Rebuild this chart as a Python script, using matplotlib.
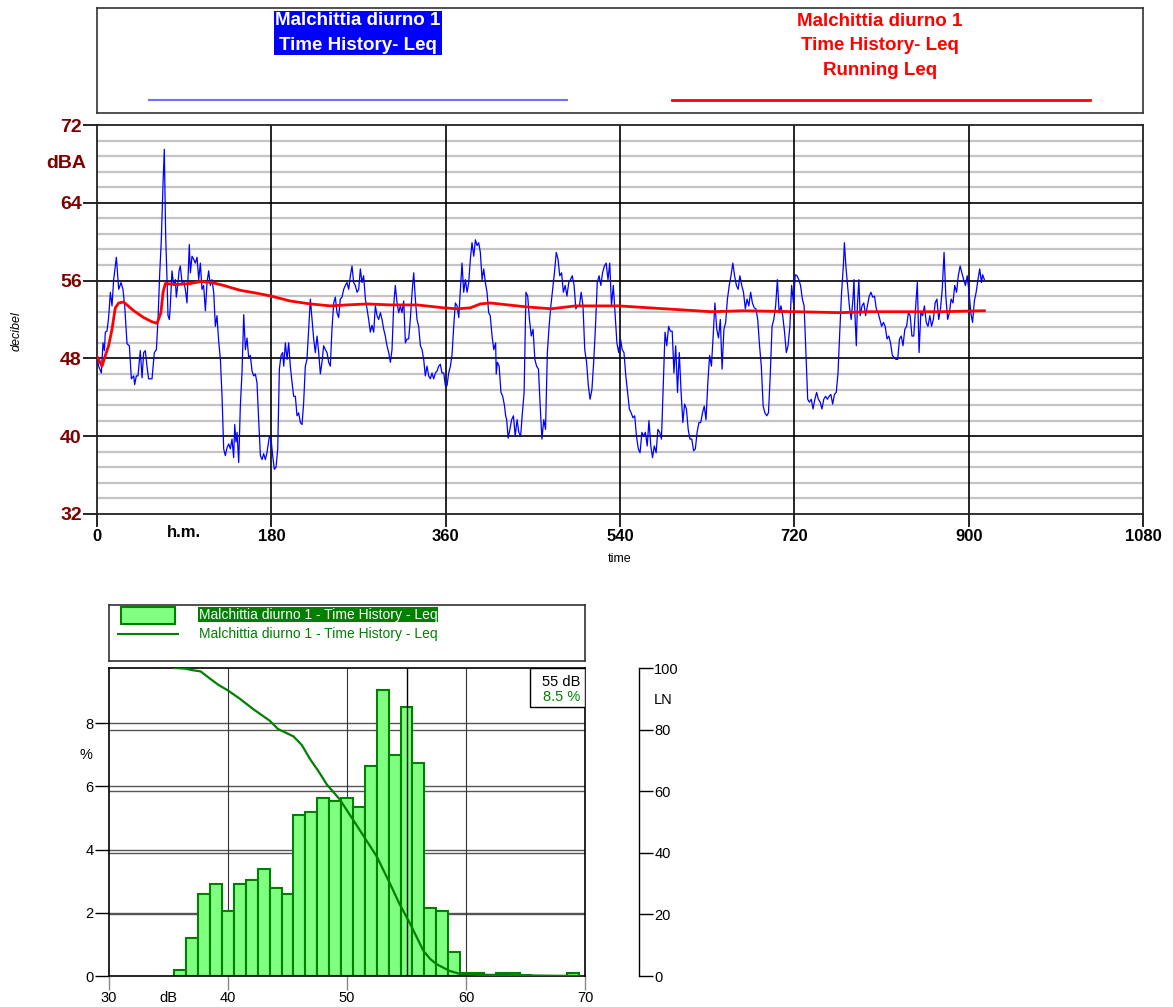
import matplotlib
matplotlib.use("Agg")
import matplotlib.pyplot as plt
from matplotlib import font_manager
from matplotlib.patches import Rectangle
from matplotlib.transforms import blended_transform_factory

# ---------------- data ----------------
TIME_S = [0, 1.7, 4.5, 6.2, 7.6, 8.6, 10.3, 12.0, 13.8, 15.5, 17.2, 20.0, 22.4, 24.8, 26.8, 28.6,
          31.0, 33.4, 35.5, 37.9, 38.9, 40.6, 42.3, 44.7, 46.5, 48.2, 49.9, 51.6, 53.3, 56.8, 59.2,
          61.3, 63.0, 64.7, 66.4, 68.2, 69.5, 70.9, 72.3, 73.3, 74.7, 75.7, 77.4, 79.2, 80.9, 81.9,
          83.3, 84.7, 86.0, 87.8, 89.5, 91.2, 92.9, 94.0, 95.3, 96.4, 98.1, 99.8, 101.5, 103.3,
          105.0, 106.7, 108.4, 110.1, 111.9, 113.6, 115.3, 117.0, 118.7, 120.5, 122.2, 123.9,
          125.6, 127.4, 129.1, 130.8, 132.5, 134.2, 136.0, 137.7, 139.4, 141.1, 142.2, 143.5,
          144.6, 146.3, 148.0, 149.7, 151.5, 153.2, 154.9, 156.6, 158.3, 160.1, 161.8, 163.5,
          165.2, 166.9, 168.7, 170.4, 172.1, 173.8, 175.5, 178.0, 179.7, 181.4, 183.1, 184.8,
          186.6, 188.3, 190.0, 191.7, 192.8, 194.5, 196.2, 197.9, 199.6, 201.4, 203.1, 204.8,
          206.5, 208.2, 210.0, 211.7, 213.4, 215.1, 216.8, 218.6, 220.3, 222.0, 223.7, 225.4,
          227.2, 228.9, 230.6, 232.3, 234.0, 235.8, 237.5, 239.2, 240.9, 242.6, 244.4, 246.1,
          247.8, 249.5, 251.2, 253.0, 254.7, 256.4, 258.1, 259.9, 261.6, 263.3, 265.0, 266.7,
          268.5, 270.2, 271.9, 273.6, 275.3, 277.1, 278.8, 280.5, 282.2, 283.9, 285.7, 287.4,
          289.1, 290.8, 292.6, 294.3, 296.0, 297.7, 299.4, 301.2, 302.9, 304.6, 306.3, 308.0,
          309.8, 311.5, 313.2, 314.9, 316.7, 318.4, 320.1, 321.8, 323.5, 325.3, 327.0, 328.7,
          330.4, 332.1, 333.9, 335.6, 337.3, 339.0, 340.7, 342.5, 344.2, 345.9, 347.6, 349.4,
          351.1, 352.8, 354.5, 356.2, 358.0, 359.7, 361.4, 363.1, 364.9, 366.6, 368.3, 370.0,
          371.8, 373.5, 375.2, 376.9, 378.6, 380.4, 382.1, 383.8, 385.5, 387.2, 389.0, 390.7,
          392.4, 394.1, 395.8, 397.6, 399.3, 401.0, 402.7, 404.4, 406.0, 407.9, 409.7, 411.6,
          412.2, 413.4, 415.2, 417.1, 418.9, 420.8, 421.9, 423.0, 424.5, 426.3, 428.1, 430.0,
          431.8, 433.7, 435.5, 437.4, 439.2, 441.0, 442.9, 444.7, 446.5, 448.4, 450.2, 452.1,
          453.9, 455.8, 457.6, 459.4, 461.3, 463.1, 465.0, 466.8, 468.6, 470.5, 472.3, 474.2,
          476.0, 477.8, 479.7, 481.5, 483.4, 485.2, 487.1, 488.9, 490.7, 492.6, 494.4, 496.3,
          498.1, 499.9, 501.8, 503.6, 505.5, 507.3, 509.1, 511.0, 512.8, 514.7, 516.5, 518.4,
          520.2, 522.0, 523.9, 525.7, 527.6, 529.4, 531.2, 533.1, 534.9, 536.8, 538.6, 540.5,
          542.3, 544.1, 546.0, 547.8, 549.7, 551.5, 553.4, 555.2, 557.0, 558.9, 560.7, 562.6,
          564.4, 566.2, 568.1, 569.9, 571.8, 573.6, 575.4, 577.3, 579.1, 581.0, 582.8, 584.7,
          586.5, 588.3, 590.2, 592.0, 593.9, 595.7, 597.5, 599.4, 601.2, 603.1, 604.9, 606.7,
          608.6, 610.4, 612.3, 614.1, 616.0, 617.8, 619.6, 621.5, 623.3, 625.2, 627.0, 628.8,
          630.7, 632.5, 634.4, 636.2, 638.0, 639.9, 641.7, 643.6, 645.4, 647.3, 649.1, 650.9,
          652.8, 654.6, 656.5, 658.3, 660.2, 662.0, 663.8, 665.7, 667.5, 669.4, 671.2, 673.0,
          674.9, 676.7, 678.6, 680.4, 682.2, 684.1, 685.9, 687.8, 689.6, 691.5, 693.3, 695.1,
          697.0, 698.8, 700.7, 702.5, 704.3, 706.2, 708.0, 709.9, 711.7, 713.5, 715.4, 717.2,
          719.1, 720.9, 722.8, 724.6, 726.4, 728.3, 730.1, 732.0, 733.8, 735.6, 737.5, 739.3,
          741.2, 743.0, 744.8, 746.7, 748.5, 750.4, 752.2, 754.1, 755.9, 757.7, 759.6, 761.4,
          763.3, 765.1, 766.9, 768.8, 770.6, 771.7, 773.2, 775.0, 776.8, 778.7, 780.5, 781.6,
          782.5, 784.0, 785.1, 786.6, 788.0, 789.9, 791.7, 793.6, 795.4, 797.3, 799.1, 800.9,
          802.8, 804.6, 806.5, 808.3, 810.1, 812.0, 813.8, 815.7, 817.5, 819.3, 821.2, 823.0,
          824.9, 826.7, 828.6, 830.4, 832.2, 834.1, 835.9, 837.8, 839.6, 841.4, 843.3, 845.1,
          847.0, 848.8, 850.6, 852.5, 854.3, 856.2, 858.0, 859.9, 861.7, 863.5, 865.4, 867.2,
          869.1, 870.9, 872.7, 874.6, 876.4, 878.3, 880.1, 881.9, 883.8, 885.6, 887.5, 889.3,
          891.2, 893.0, 894.8, 896.7, 898.5, 900.4, 902.2, 904.0, 905.9, 907.7, 909.6, 911.4,
          913.2, 914.4, 916.2]
LEQ_DB = [48.1, 47.2, 46.5, 49.6, 48.8, 50.7, 50.8, 52.2, 54.8, 53.4, 56.1, 58.4, 55.1, 55.8, 55.1, 53.4,
          49.5, 49.3, 45.9, 46.2, 45.3, 46.2, 46.2, 48.8, 46.0, 48.6, 48.8, 47.2, 45.9, 45.9, 48.6,
          48.9, 52.0, 56.6, 60.2, 66.0, 69.5, 60.6, 56.1, 52.4, 52.0, 53.4, 57.0, 55.5, 56.1, 54.3,
          55.5, 57.0, 57.5, 55.8, 56.0, 55.1, 53.7, 56.3, 59.7, 56.8, 58.5, 58.2, 57.8, 58.4,
          56.1, 57.8, 55.1, 55.5, 52.9, 55.8, 57.0, 55.5, 56.1, 54.8, 51.3, 52.4,
          49.8, 47.9, 44.1, 38.7, 38.0, 38.8, 39.2, 38.7, 39.7, 37.8, 41.2, 39.4,
          40.4, 37.3, 43.1, 46.5, 52.5, 48.9, 50.1, 48.1, 48.3, 46.7, 46.2, 46.4,
          45.5, 41.7, 38.0, 37.6, 38.2, 37.6, 38.3, 40.0, 39.7, 38.0, 36.6, 36.8,
          38.7, 46.9, 48.3, 48.6, 47.2, 49.6, 47.9, 49.6, 47.2, 45.5, 44.1, 44.1,
          42.1, 42.4, 41.4, 41.2, 43.5, 47.2, 47.9, 51.0, 54.1, 52.0, 50.0, 48.6,
          50.3, 48.6, 46.4, 47.6, 49.3, 48.9, 48.6, 47.6, 47.2, 51.0, 53.7, 54.3,
          52.7, 52.2, 54.1, 54.3, 55.1, 55.5, 55.8, 55.1, 56.5, 57.5, 55.8, 55.5,
          54.8, 55.1, 57.2, 55.8, 56.5, 54.1, 53.1, 52.0, 50.7, 51.4, 50.7, 53.4,
          52.4, 52.0, 52.7, 52.0, 51.0, 50.3, 49.3, 48.6, 47.6, 48.9, 53.4, 55.5,
          53.7, 52.7, 53.4, 52.7, 53.9, 49.6, 50.0, 50.0, 52.0, 54.8, 56.8, 54.1,
          52.0, 51.3, 49.3, 48.9, 47.9, 46.2, 47.2, 46.2, 45.9, 46.5, 45.9, 46.5,
          46.7, 47.2, 47.4, 46.5, 46.5, 45.2, 45.2, 46.5, 47.2, 48.4, 51.3, 53.7,
          53.4, 52.2, 55.1, 57.8, 54.8, 56.1, 54.8, 55.8, 58.2, 59.9, 58.5, 60.2,
          59.6, 59.9, 58.9, 56.1, 57.2, 55.8, 54.8, 52.7, 52.4, 50.3, 48.9, 49.6,
          46.4, 47.6, 47.2, 44.5, 44.1, 43.1, 42.1, 41.7, 39.8, 40.7, 41.7, 42.1,
          40.0, 41.7, 40.4, 40.0, 42.4, 44.5, 54.8, 54.4, 52.0, 50.3, 51.0, 47.9,
          47.2, 46.9, 43.1, 39.7, 41.7, 40.7, 48.6, 51.3, 53.4, 55.1, 56.8, 58.9,
          58.2, 56.5, 56.8, 54.8, 55.5, 54.4, 55.8, 56.1, 56.5, 55.5, 53.1, 53.4,
          53.4, 54.8, 53.4, 48.9, 47.6, 45.2, 43.8, 44.8, 47.6, 51.3, 55.8, 56.5,
          55.5, 56.8, 57.5, 57.8, 56.1, 57.8, 53.4, 55.5, 52.7, 49.6, 48.6, 50.0,
          48.9, 48.6, 46.2, 44.5, 42.8, 42.4, 41.9, 42.1, 40.0, 38.7, 38.3, 40.4,
          40.0, 40.4, 39.0, 41.6, 39.0, 37.8, 39.0, 38.3, 40.7, 40.4, 39.7, 45.2,
          50.7, 49.3, 51.3, 50.8, 50.8, 46.5, 49.3, 44.5, 48.6, 44.5, 41.4, 43.3,
          42.8, 40.7, 39.7, 39.7, 38.5, 38.7, 40.4, 41.4, 41.4, 42.4, 43.1, 41.7,
          45.5, 48.3, 47.2, 50.3, 53.7, 51.0, 50.1, 52.0, 46.9, 51.0, 51.7, 54.1,
          55.5, 56.5, 57.8, 56.5, 55.5, 55.1, 56.5, 55.5, 54.8, 53.1, 54.1, 53.4,
          54.8, 53.7, 53.2, 53.1, 52.0, 49.3, 47.2, 43.1, 42.4, 42.1, 42.4, 46.2,
          51.3, 52.0, 53.4, 56.1, 52.7, 53.4, 52.4, 50.7, 48.6, 49.3, 51.3, 55.5,
          53.7, 56.6, 56.5, 56.1, 55.5, 54.1, 53.4, 48.6, 43.8, 43.5, 43.8, 42.8,
          43.8, 44.5, 43.8, 43.5, 42.8, 43.8, 44.1, 43.8, 44.1, 44.3, 43.3, 44.3,
          44.5, 46.5, 50.7, 54.8, 57.5, 59.9, 57.5, 55.5, 53.4, 52.0, 54.1, 56.1,
          52.7, 49.3, 53.4, 56.1, 52.4, 53.4, 53.7, 52.4, 53.4, 54.4, 54.8, 54.3,
          54.4, 53.1, 52.7, 52.0, 51.3, 51.7, 51.3, 50.0, 50.3, 49.6, 48.3, 48.1,
          47.9, 47.9, 50.0, 50.3, 49.3, 51.0, 51.3, 52.7, 52.4, 50.3, 50.3, 53.1,
          55.8, 48.6, 52.7, 52.4, 53.4, 51.7, 51.3, 52.4, 51.3, 52.0, 53.7, 54.1,
          52.0, 53.1, 55.1, 58.9, 54.4, 52.0, 52.7, 54.1, 53.7, 55.5, 54.8, 56.5,
          57.5, 56.8, 56.1, 55.5, 56.5, 54.8, 52.7, 51.7, 53.9, 54.8, 56.1, 57.2,
          55.8, 56.6, 56.1]

RUN_T = [0, 5.2, 8.6, 12.0, 15.5, 18.9, 22.4, 27.5, 37.9, 48.2, 56.0, 62.0, 66.0, 68.2, 70.6,
         82.6, 96.4, 106.7, 118.7, 130.8, 148.0, 165.2, 180.0, 199.6, 220.3, 240.9, 258.1,
         278.8, 302.9, 330.4, 358.0, 371.8, 385.5, 395.8, 406.0, 443.0, 469.0, 494.0, 538.6,
         586.5, 634.4, 667.5, 722.8, 767.0, 796.0, 870.0, 916.2]
RUN_DB = [48.2, 47.2, 48.3, 49.3, 51.0, 53.2, 53.7, 53.8, 52.9, 52.2, 51.8, 51.6, 52.7, 54.8, 55.7,
          55.6, 55.7, 55.9, 55.8, 55.5, 55.0, 54.7, 54.4, 53.9, 53.6, 53.4, 53.5,
          53.6, 53.5, 53.5, 53.2, 53.1, 53.2, 53.6, 53.7, 53.3, 53.1, 53.4, 53.4,
          53.1, 52.8, 52.9, 52.8, 52.7, 52.8, 52.8, 52.9]

HIST_LEVEL = [36, 37, 38, 39, 40, 41, 42, 43, 44, 45, 46, 47, 48, 49, 50, 51, 52, 53, 54, 55,
              56, 57, 58, 59, 60, 61, 62, 63, 64, 65, 69]
HIST_PCT = [0.2, 1.2, 2.6, 2.9, 2.05, 2.9, 3.05, 3.4, 2.8, 2.6, 5.1, 5.2, 5.65, 5.55, 5.65, 5.35,
            6.65, 9.05, 7.0, 8.5, 6.75, 2.15, 2.05, 0.75, 0.08, 0.08, 0.03, 0.08, 0.08, 0.03, 0.1]

LN_LEVEL = [35.5, 36.4, 37.0, 37.7, 38.5, 39.2, 40.0, 41.0, 42.1, 43.5, 44.2, 45.5, 46.2, 46.9,
            47.6, 48.3, 49.4, 50.5, 51.6, 52.5, 53.6, 54.4, 55.3, 56.0, 56.4, 57.0, 57.5, 58.6,
            59.5, 61.0, 63.0, 65.0, 67.0, 69.5]
LN_PCT = [100, 99.8, 99.3, 98.9, 96.5, 94.5, 92.7, 90.0, 86.7, 82.9, 80.2, 77.8, 75.0, 70.4,
          66.5, 62.2, 57.3, 50.8, 44.2, 38.8, 30.1, 23.5, 17.0, 11.5, 8.3, 5.5, 3.9, 1.7,
          0.65, 0.4, 0.3, 0.2, 0.1, 0.0]

CURSOR_DB = 55
CURSOR_PCT = 8.5

SERIES = "Malchittia diurno 1"
X_TICKS = [0, 180, 360, 540, 720, 900, 1080]
Y_TICKS = [32, 40, 48, 56, 64, 72]
PCT_TICKS = [0, 2, 4, 6, 8]
LN_TICKS = [0, 20, 40, 60, 80, 100]

# ---------------- fonts / colours ----------------
_names = {f.name for f in font_manager.fontManager.ttflist}
NARROW = "Liberation Sans Narrow" if "Liberation Sans Narrow" in _names else "Liberation Sans"
plt.rcParams["font.family"] = ["Liberation Sans", "DejaVu Sans"]
MAROON = "#800000"
GREEN = "#008000"
LIGHT_GREEN = "#80ff80"
GRID_GREY = "#555555"

W, H = 1173, 1007
fig = plt.figure(figsize=(W / 100, H / 100), dpi=100)
fig.patch.set_facecolor("white")


def frac(x0, y0, x1, y1):
    """pixel box (top-left origin) -> figure fraction rect"""
    return [x0 / W, 1 - y1 / H, (x1 - x0) / W, (y1 - y0) / H]


# ---------------- top legend box ----------------
lg = fig.add_axes(frac(97, 8, 1143, 113))
lg.set_xlim(97, 1143)
lg.set_ylim(113, 8)
lg.set_xticks([])
lg.set_yticks([])
for s in lg.spines.values():
    s.set_linewidth(1.2)
    s.set_color("#333333")
lg.text(358, 33, SERIES + "\nTime History- Leq", ha="center", va="center", color="white",
        fontfamily=NARROW, fontweight="bold", fontsize=13.5, linespacing=1.6,
        bbox=dict(boxstyle="square,pad=0.08", facecolor="#0000ff", edgecolor="none"))
lg.plot([149, 567], [100, 100], color="#7070ff", lw=1.5)
lg.text(880, 46, SERIES + "\nTime History- Leq\nRunning Leq", ha="center", va="center",
        color="#ff0000", fontfamily=NARROW, fontweight="bold", fontsize=13.5, linespacing=1.6)
lg.plot([672, 1090], [100, 100], color="#ff0000", lw=2)

# ---------------- time history ----------------
ax = fig.add_axes(frac(97, 125, 1143, 514))
ax.set_xlim(0, 1080)
ax.set_ylim(32, 72)
minor_y = [32 + 1.6 * k for k in range(26) if k % 5 != 0]
for y in minor_y:
    ax.axhline(y, color="#c4c4c4", lw=1.6, zorder=1)
for y in Y_TICKS[1:-1]:
    ax.axhline(y, color="black", lw=1.2, zorder=1.5)
for x in X_TICKS[1:-1]:
    ax.axvline(x, color="black", lw=1.2, zorder=1.5)
ax.plot(TIME_S, LEQ_DB, color="#0000ff", lw=0.9, zorder=3)
ax.plot(RUN_T, RUN_DB, color="#ff0000", lw=2, zorder=4)

ax.set_yticks(Y_TICKS)
ax.set_yticklabels([str(v) for v in Y_TICKS])
ax.set_xticks(X_TICKS)
ax.set_xticklabels([str(v) for v in X_TICKS])
ax.tick_params(axis="y", length=10, width=1.2, pad=1, labelsize=14, labelcolor=MAROON)
ax.tick_params(axis="x", length=9, width=1.2, pad=2, labelsize=12)
for lab in ax.get_yticklabels():
    lab.set_fontweight("bold")
    lab.set_fontfamily(NARROW)
for lab in ax.get_xticklabels():
    lab.set_fontweight("bold")
for s in ax.spines.values():
    s.set_linewidth(1.3)
    s.set_color("#222222")
ax.text(-0.01, 68, "dBA", transform=blended_transform_factory(ax.transAxes, ax.transData),
        ha="right", va="center", color=MAROON, fontsize=14, fontweight="bold", fontfamily=NARROW)
ax.text(90, -0.0295, "h.m.", transform=blended_transform_factory(ax.transData, ax.transAxes),
        ha="center", va="top", fontsize=12, fontweight="bold")
ax.set_xlabel("time", fontsize=9)
ax.xaxis.set_label_coords(0.5, -0.1)
ax.set_ylabel("decibel", fontsize=9, style="italic")
ax.yaxis.set_label_coords(-0.071, 0.47)

# ---------------- histogram legend ----------------
hl = fig.add_axes(frac(109, 605, 585, 661))
hl.set_xlim(109, 585)
hl.set_ylim(661, 605)
hl.set_xticks([])
hl.set_yticks([])
for s in hl.spines.values():
    s.set_linewidth(1.2)
    s.set_color("#333333")
hl.add_patch(Rectangle((121, 607), 54, 17, facecolor=LIGHT_GREEN, edgecolor=GREEN, lw=1.5))
hl.text(199, 614.5, SERIES + " - Time History - Leq", ha="left", va="center", color="white",
        fontsize=10, bbox=dict(boxstyle="square,pad=0.05", facecolor=GREEN, edgecolor="none"))
hl.plot([118, 178], [634, 634], color=GREEN, lw=1.5)
hl.text(199, 634, SERIES + " - Time History - Leq", ha="left", va="center", color=GREEN,
        fontsize=10)

# ---------------- histogram ----------------
hx = fig.add_axes(frac(109, 668, 585, 976))
ln = hx.twinx()
hx.set_xlim(30, 70)
hx.set_ylim(0, 9.75)
ln.set_ylim(0, 100)

# grid lines of both scales sit underneath the bars
for v in PCT_TICKS[1:]:
    hx.axhline(v, color=GRID_GREY, lw=1, zorder=0.5)
ln_rows = blended_transform_factory(hx.transAxes, ln.transData)
for v in LN_TICKS[1:-1]:
    hx.plot([0, 1], [v, v], transform=ln_rows, color=GRID_GREY, lw=1, zorder=0.5)
for v in (40, 50, 60):
    hx.axvline(v, color="#333333", lw=0.8, zorder=0.5)

hx.bar(HIST_LEVEL, HIST_PCT, width=1.0, facecolor=LIGHT_GREEN, edgecolor=GREEN, lw=1.5, zorder=2)
hx.axvline(CURSOR_DB, color="black", lw=1, zorder=2.5)
hx.set_xlim(30, 70)
hx.set_ylim(0, 9.75)
hx.set_yticks(PCT_TICKS)
hx.set_xticks([30, 40, 50, 60, 70])
hx.tick_params(axis="y", length=10, width=1, pad=1, labelsize=10.5)
hx.tick_params(axis="x", length=10, width=1, pad=1, labelsize=10.5, color="#888888")
for s in hx.spines.values():
    s.set_linewidth(1.2)
hx.text(-0.035, 7.0, "%", transform=blended_transform_factory(hx.transAxes, hx.transData),
        ha="right", va="center", fontsize=10.5)
hx.text(35, -0.048, "dB", transform=blended_transform_factory(hx.transData, hx.transAxes),
        ha="center", va="top", fontsize=10.5)

# cursor readout box
hx.add_patch(Rectangle((0.884, 0.873), 0.116, 0.127, transform=hx.transAxes,
                       facecolor="white", edgecolor="black", lw=1, zorder=5))
hx.text(0.99, 0.955, f"{CURSOR_DB} dB", transform=hx.transAxes, ha="right", va="center",
        fontsize=10.5, zorder=6)
hx.text(0.99, 0.905, f"{CURSOR_PCT} %", transform=hx.transAxes, ha="right", va="center",
        fontsize=10.5, color=GREEN, zorder=6)

# exceedance level (LN) axis
ln.set_yticks(LN_TICKS)
ln.spines["right"].set_position(("axes", 1 + 54 / 476))
for k in ("top", "bottom", "left"):
    ln.spines[k].set_visible(False)
ln.spines["right"].set_linewidth(1)
ln.tick_params(axis="y", length=10, width=1, pad=1, labelsize=10.5)
ln.plot(LN_LEVEL, LN_PCT, color=GREEN, lw=1.6, zorder=5)
ln.set_ylim(0, 100)
ln.text(1 + 54 / 476 + 0.05, 89.5, "LN", transform=blended_transform_factory(ln.transAxes, ln.transData),
        ha="center", va="center", fontsize=10.5)

fig.savefig("out.png", dpi=100, facecolor="white")
